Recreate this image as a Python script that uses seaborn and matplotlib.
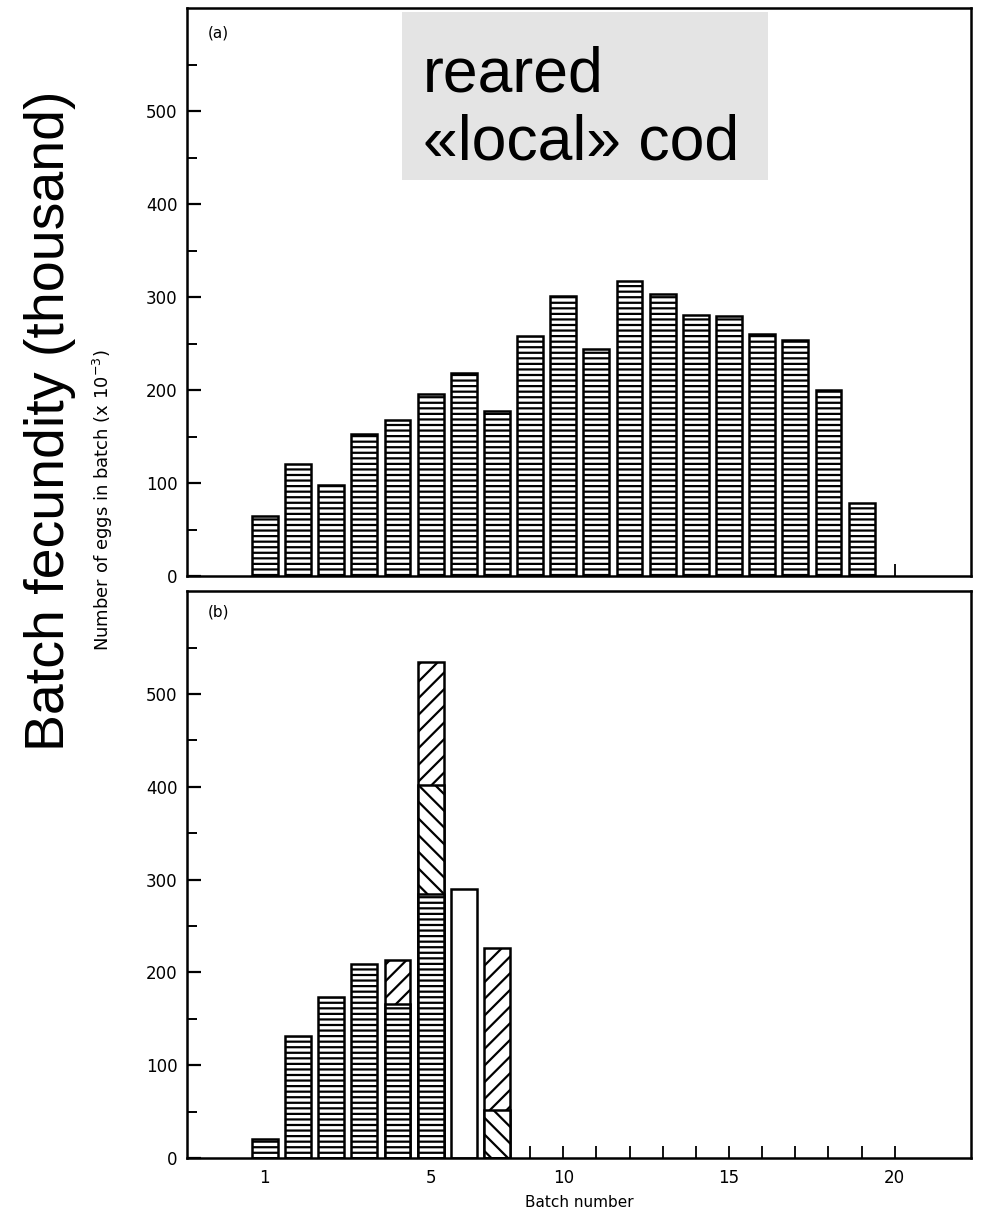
import matplotlib
matplotlib.use("Agg")
import matplotlib.pyplot as plt
from matplotlib.patches import Rectangle
from matplotlib.ticker import FixedLocator
import seaborn as sns
import pandas as pd

# ---------------- data ----------------
batches_a = list(range(1, 20))
eggs_a = [65, 120, 98, 153, 168, 196, 218, 178, 258, 301, 244,
          317, 303, 281, 280, 260, 254, 200, 79]

batches_b = list(range(1, 9))
horiz_b = [21, 132, 174, 209, 166, 285, 0, 0]     # horizontal hatching
back_b = [0, 0, 0, 0, 0, 117, 0, 52]              # "\" hatching
fwd_b = [0, 0, 0, 0, 47, 133, 0, 174]             # "/" hatching
open_b = [0, 0, 0, 0, 0, 0, 290, 0]               # open bar

xtick_pos = [1, 6, 10, 15, 20]
xtick_labels = ["1", "5", "10", "15", "20"]
minor_xticks = list(range(1, 21))
ytick_major = [0, 100, 200, 300, 400, 500]
ytick_minor = [50, 150, 250, 350, 450, 550]

# ---------------- style ----------------
sns.set_theme(style="ticks")
plt.rcParams["font.family"] = ["DejaVu Sans"]
plt.rcParams["text.color"] = "black"
plt.rcParams["axes.labelcolor"] = "black"
plt.rcParams["hatch.linewidth"] = 1.6
plt.rcParams["hatch.color"] = "black"

W, H = 987, 1216
fig = plt.figure(figsize=(W / 100, H / 100), dpi=100)

left = 187 / W
width = (971 - 187) / W
ax_a = fig.add_axes([left, 1 - 576 / H, width, (576 - 8) / H])
ax_b = fig.add_axes([left, 1 - 1158 / H, width, (1158 - 591) / H])

bar_kw = dict(native_scale=True, color="white", edgecolor="black",
              linewidth=1.8, width=0.78, saturation=1, errorbar=None)

# panel (a)
df_a = pd.DataFrame({"batch": batches_a, "eggs": eggs_a})
sns.barplot(data=df_a, x="batch", y="eggs", hatch="---", ax=ax_a, **bar_kw)

# panel (b) : stacked by overlaying cumulative layers
df_b = pd.DataFrame({"batch": batches_b, "h": horiz_b, "b": back_b,
                     "f": fwd_b, "o": open_b})
df_b["top"] = (df_b["h"] + df_b["b"] + df_b["f"]).where(df_b["f"] > 0, 0)
df_b["mid"] = (df_b["h"] + df_b["b"]).where(df_b["b"] > 0, 0)

sns.barplot(data=df_b, x="batch", y="top", hatch="//", ax=ax_b, **bar_kw)
sns.barplot(data=df_b, x="batch", y="mid", hatch="\\\\", ax=ax_b, **bar_kw)
sns.barplot(data=df_b, x="batch", y="h", hatch="---", ax=ax_b, **bar_kw)
sns.barplot(data=df_b, x="batch", y="o", ax=ax_b, **bar_kw)

for ax in (ax_a, ax_b):
    ax.set_xlim(-1.35, 22.3)
    ax.set_ylim(0, 611)
    ax.set_axisbelow(True)
    for s in ax.spines.values():
        s.set_visible(True)
        s.set_color("black")
        s.set_linewidth(1.8)
    ax.yaxis.set_major_locator(FixedLocator(ytick_major))
    ax.yaxis.set_minor_locator(FixedLocator(ytick_minor))
    ax.tick_params(axis="y", which="major", direction="in", length=10,
                   width=1.6, labelsize=12, pad=7, colors="black",
                   left=True, right=False)
    ax.tick_params(axis="y", which="minor", direction="in", length=7,
                   width=1.4, left=True, right=False, colors="black")
    ax.xaxis.remove_overlapping_locs = False
    ax.xaxis.set_major_locator(FixedLocator(xtick_pos))
    ax.xaxis.set_minor_locator(FixedLocator(minor_xticks))
    ax.tick_params(axis="x", which="major", length=0, labelsize=12, pad=8,
                   colors="black")
    ax.tick_params(axis="x", which="minor", direction="in", length=9,
                   width=1.3, bottom=True, top=False, colors="black")
    ax.set_xlabel("")
    ax.set_ylabel("")
    ax.grid(False)

ax_a.set_xticklabels([])
ax_b.set_xticklabels(xtick_labels)
ax_b.set_xlabel("Batch number", fontsize=11, labelpad=6, color="black")

ax_a.text(0.040, 0.956, "(a)", transform=ax_a.transAxes, fontsize=11,
          ha="center", va="center", color="black")
ax_b.text(0.040, 0.963, "(b)", transform=ax_b.transAxes, fontsize=11,
          ha="center", va="center", color="black")

# original small y label
fig.text(103 / W, 1 - 500 / H, "Number of eggs in batch (x 10$^{-3}$)",
         rotation=90, ha="center", va="center", fontsize=13, color="black")

# overlaid big y label
fig.text(50 / W, 1 - 421 / H, "Batch fecundity (thousand)", rotation=90,
         ha="center", va="center", fontsize=40, family=["Liberation Sans"],
         color="black")

# grey annotation box
fig.patches.append(Rectangle((402 / W, 1 - 180 / H), (768 - 402) / W,
                             (180 - 12) / H, transform=fig.transFigure,
                             facecolor="#e4e4e4", edgecolor="none", zorder=5))
fig.text(423 / W, 1 - 92 / H, "reared", fontsize=45, ha="left",
         va="baseline", family=["Liberation Sans"], zorder=6, color="black")
fig.text(423 / W, 1 - 160 / H, "«local» cod", fontsize=45, ha="left",
         va="baseline", family=["Liberation Sans"], zorder=6, color="black")

fig.savefig("out.png", dpi=100)
